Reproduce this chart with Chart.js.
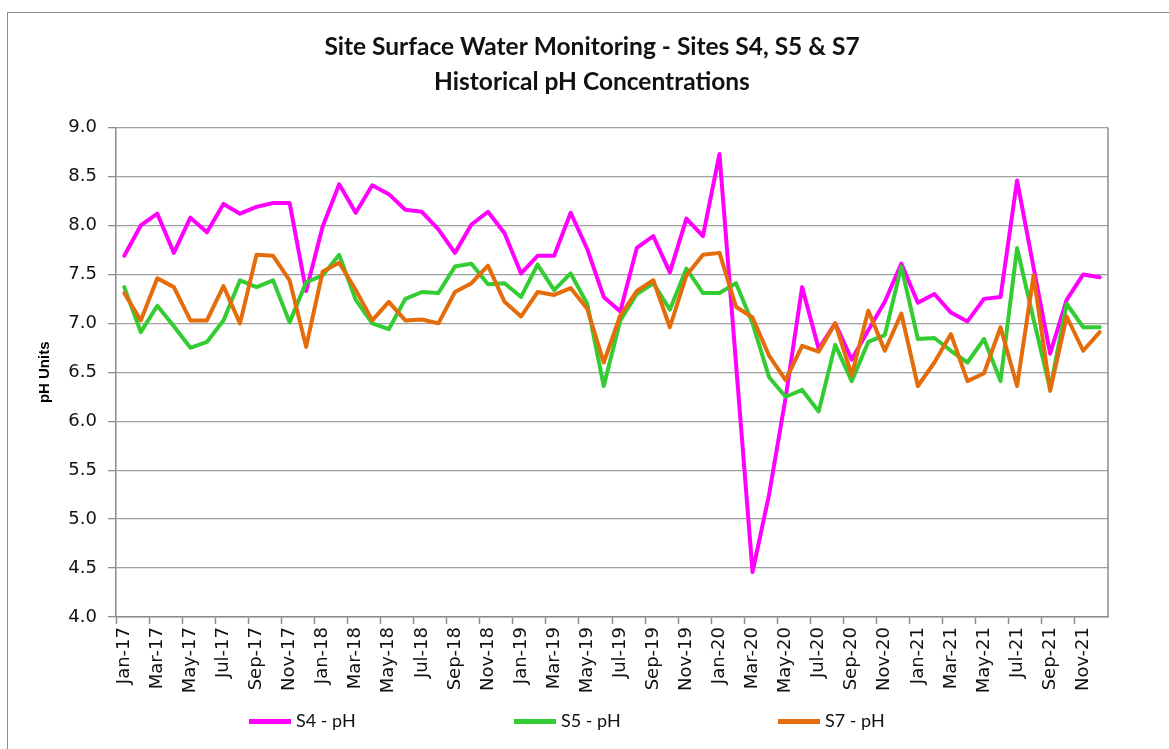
<!DOCTYPE html>
<html>
<head>
<meta charset="utf-8">
<script src="https://cdn.jsdelivr.net/npm/chart.js@4"></script>
<style>
    body { margin: 0; background: #fff; overflow: hidden; width: 1169px; height: 749px; position: relative; }
    #frame { position: absolute; left: 7px; top: 12px; width: 1200px; height: 800px; border: 1px solid #8c8c8c; }
    #phChart { position: absolute; left: 8px; top: 0; }
    .leg { position: absolute; top: 708px; font-family: Lato, sans-serif; font-size: 18px; color: #111; line-height: 24px; white-space: nowrap; }
    .leg span { display: inline-block; width: 42px; height: 5px; vertical-align: middle; margin-right: 5px; position: relative; top: -1px; }
</style>
</head>
<body>
<div id="frame"></div>
<canvas id="phChart" width="1168" height="749"></canvas>
<div class="leg" style="left:249px"><span style="background:#ff00ff"></span>S4 - pH</div>
<div class="leg" style="left:514px"><span style="background:#33cc33"></span>S5 - pH</div>
<div class="leg" style="left:778px"><span style="background:#e46c0a"></span>S7 - pH</div>

<script>
const months = [
    "Jan-17", "Feb-17", "Mar-17", "Apr-17", "May-17", "Jun-17", "Jul-17", "Aug-17", "Sep-17", "Oct-17", "Nov-17", "Dec-17",
    "Jan-18", "Feb-18", "Mar-18", "Apr-18", "May-18", "Jun-18", "Jul-18", "Aug-18", "Sep-18", "Oct-18", "Nov-18", "Dec-18",
    "Jan-19", "Feb-19", "Mar-19", "Apr-19", "May-19", "Jun-19", "Jul-19", "Aug-19", "Sep-19", "Oct-19", "Nov-19", "Dec-19",
    "Jan-20", "Feb-20", "Mar-20", "Apr-20", "May-20", "Jun-20", "Jul-20", "Aug-20", "Sep-20", "Oct-20", "Nov-20", "Dec-20",
    "Jan-21", "Feb-21", "Mar-21", "Apr-21", "May-21", "Jun-21", "Jul-21", "Aug-21", "Sep-21", "Oct-21", "Nov-21", "Dec-21"
];

const s4 = [
    7.69, 8.00, 8.12, 7.72, 8.08, 7.93, 8.22, 8.12, 8.19, 8.23, 8.23, 7.33,
    7.99, 8.42, 8.13, 8.41, 8.32, 8.16, 8.14, 7.96, 7.72, 8.01, 8.14, 7.92,
    7.51, 7.69, 7.69, 8.13, 7.76, 7.27, 7.12, 7.77, 7.89, 7.52, 8.07, 7.89,
    8.73, 6.59, 4.46, 5.25, 6.24, 7.37, 6.74, 7.00, 6.63, 6.93, 7.22, 7.61,
    7.21, 7.30, 7.11, 7.02, 7.25, 7.27, 8.46, 7.57, 6.69, 7.24, 7.50, 7.47
];

const s5 = [
    7.37, 6.91, 7.18, 6.97, 6.75, 6.81, 7.03, 7.44, 7.37, 7.44, 7.01, 7.42,
    7.49, 7.70, 7.24, 7.00, 6.94, 7.25, 7.32, 7.31, 7.58, 7.61, 7.40, 7.41,
    7.27, 7.60, 7.34, 7.51, 7.20, 6.36, 7.03, 7.30, 7.41, 7.14, 7.56, 7.31,
    7.31, 7.41, 7.00, 6.45, 6.25, 6.32, 6.10, 6.78, 6.41, 6.81, 6.88, 7.58,
    6.84, 6.85, 6.72, 6.60, 6.84, 6.41, 7.77, 7.04, 6.33, 7.20, 6.96, 6.96
];

const s7 = [
    7.31, 7.03, 7.46, 7.37, 7.03, 7.03, 7.38, 7.00, 7.70, 7.69, 7.44, 6.76,
    7.53, 7.62, 7.34, 7.03, 7.22, 7.03, 7.04, 7.00, 7.32, 7.41, 7.59, 7.22,
    7.07, 7.32, 7.29, 7.36, 7.15, 6.60, 7.08, 7.33, 7.44, 6.96, 7.49, 7.70,
    7.72, 7.17, 7.06, 6.67, 6.42, 6.77, 6.71, 7.00, 6.47, 7.13, 6.72, 7.10,
    6.36, 6.60, 6.89, 6.41, 6.49, 6.96, 6.36, 7.49, 6.31, 7.07, 6.72, 6.91
];

const yTicks = ["4.0", "4.5", "5.0", "5.5", "6.0", "6.5", "7.0", "7.5", "8.0", "8.5", "9.0"];

const tickFont = { family: "'DejaVu Sans', sans-serif", size: 18 };

// right-hand border of the plot area
const plotFrame = {
    id: "plotFrame",
    afterDraw(chart) {
        const { ctx, chartArea } = chart;
        ctx.save();
        ctx.strokeStyle = "#8c8c8c";
        ctx.lineWidth = 1.5;
        ctx.beginPath();
        ctx.moveTo(chartArea.right, chartArea.top);
        ctx.lineTo(chartArea.right, chartArea.bottom);
        ctx.stroke();
        ctx.restore();
    }
};

// centre the title on the whole frame, not on the padded area
const titleSpan = {
    id: "titleSpan",
    afterLayout(chart) {
        const t = chart.titleBlock;
        if (!t) return;
        t.left = 0;
        t.right = chart.width;
        t.width = chart.width;
    }
};

function line(label, data, color, order) {
    return {
        label: label,
        data: data,
        borderColor: color,
        backgroundColor: color,
        borderWidth: 4,
        pointRadius: 0,
        tension: 0,
        borderJoinStyle: "round",
        borderCapStyle: "round",
        order: order
    };
}

new Chart(document.getElementById("phChart"), {
    type: "line",
    data: {
        labels: months,
        datasets: [
            line("S4 - pH", s4, "#ff00ff", 3),
            line("S5 - pH", s5, "#33cc33", 2),
            line("S7 - pH", s7, "#e46c0a", 1)
        ]
    },
    plugins: [plotFrame, titleSpan],
    options: {
        responsive: false,
        animation: false,
        layout: { padding: { left: 0, right: 68, top: 0, bottom: 40 } },
        plugins: {
            legend: { display: false },
            tooltip: { enabled: false },
            title: {
                display: true,
                text: ["Site Surface Water Monitoring - Sites S4, S5 & S7", "Historical pH Concentrations"],
                color: "#111",
                font: { family: "Lato, sans-serif", size: 24.5, weight: "bold", lineHeight: 1.42 },
                padding: { top: 30, bottom: 28 }
            }
        },
        scales: {
            x: {
                offset: true,
                afterFit: s => { s.height = 92; },
                border: { color: "#8c8c8c", width: 1.5 },
                grid: {
                    offset: true,
                    drawOnChartArea: false,
                    tickLength: 7,
                    tickWidth: 1.5,
                    tickColor: c => (c.index % 2 === 0 ? "#8c8c8c" : "rgba(0,0,0,0)")
                },
                ticks: {
                    autoSkip: false,
                    minRotation: 90,
                    maxRotation: 90,
                    padding: 3,
                    color: "#111",
                    font: tickFont,
                    callback: (v, i) => (i % 2 === 0 ? months[i] : "")
                }
            },
            y: {
                min: 4,
                max: 9,
                afterFit: s => { s.width = 108; },
                border: { color: "#8c8c8c", width: 1.5 },
                grid: { color: "#a0a0a0", lineWidth: 1.3, tickLength: 8, tickColor: "#8c8c8c" },
                ticks: {
                    stepSize: 0.5,
                    padding: 11,
                    color: "#111",
                    font: tickFont,
                    callback: v => yTicks[Math.round((v - 4) * 2)]
                },
                title: {
                    display: true,
                    text: "pH Units",
                    color: "#000",
                    font: { family: "'Liberation Sans', sans-serif", size: 15, weight: "bold" },
                    padding: { top: 28, bottom: 0 }
                }
            }
        }
    }
});
</script>
</body>
</html>
